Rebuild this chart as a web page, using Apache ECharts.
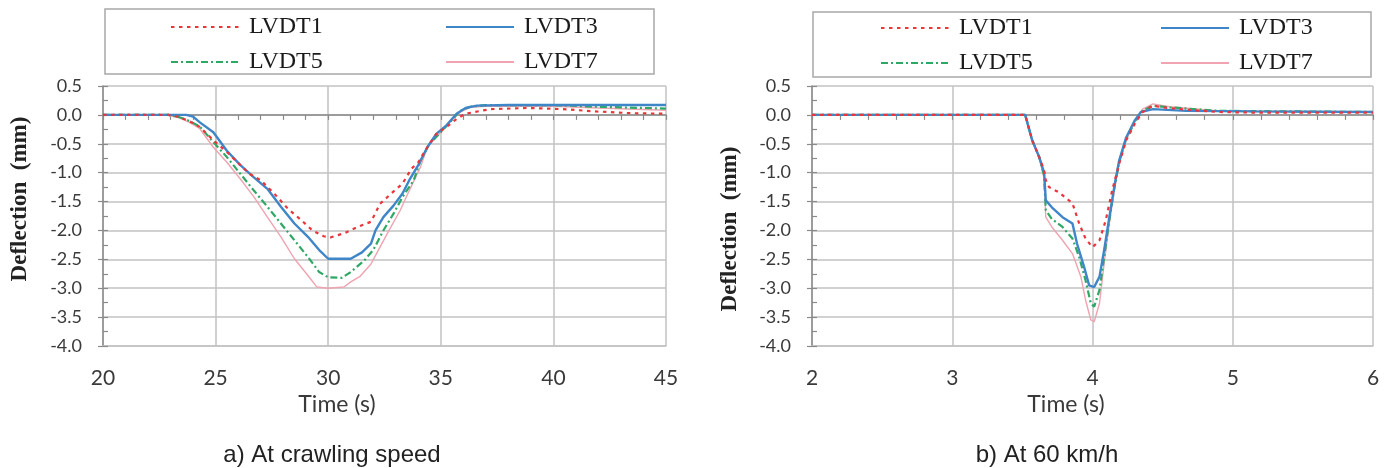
<!DOCTYPE html>
<html>
<head>
<meta charset="utf-8">
<script src="https://cdn.jsdelivr.net/npm/echarts@6/dist/echarts.min.js"></script>
<style>
  html, body { margin: 0; padding: 0; background: #ffffff; }
  #chart { width: 1393px; height: 468px; }
</style>
</head>
<body>
<div id="chart"></div>
<script>
// ---- Data (time s, deflection mm) ----
const seriesNames = ['LVDT1', 'LVDT3', 'LVDT5', 'LVDT7'];

// a) At crawling speed
const crawlLVDT1 = [[20,0],[22.9,0],[23.3,-0.03],[23.8,-0.1],[24.3,-0.21],[24.9,-0.44],[25.5,-0.64],[26.1,-0.87],[26.5,-1.02],[27.0,-1.13],[27.6,-1.36],[28.2,-1.62],[28.8,-1.82],[29.3,-2.0],[29.8,-2.1],[30.1,-2.12],[30.7,-2.05],[31.3,-1.94],[31.9,-1.85],[32.3,-1.54],[32.8,-1.36],[33.3,-1.19],[33.7,-0.93],[34.0,-0.82],[34.4,-0.56],[34.8,-0.33],[35.25,-0.21],[35.7,-0.07],[36.1,0.02],[37.2,0.10],[38.9,0.12],[40.4,0.10],[41.9,0.06],[43.4,0.03],[45,0.02]];
const crawlLVDT3 = [[20,0],[23.7,0],[24.0,-0.03],[24.3,-0.13],[24.9,-0.3],[25.5,-0.62],[26.1,-0.87],[26.7,-1.08],[27.3,-1.28],[27.9,-1.59],[28.5,-1.88],[29.1,-2.11],[29.6,-2.34],[30.0,-2.49],[31.0,-2.49],[31.5,-2.38],[31.9,-2.23],[32.1,-2.0],[32.45,-1.77],[32.9,-1.57],[33.3,-1.36],[33.6,-1.13],[34.0,-0.87],[34.4,-0.56],[34.8,-0.33],[35.25,-0.18],[35.7,0.02],[36.1,0.12],[36.6,0.16],[38,0.17],[45,0.17]];
const crawlLVDT5 = [[20,0],[22.9,0],[23.4,-0.04],[23.8,-0.1],[24.3,-0.2],[24.9,-0.47],[25.5,-0.73],[26.1,-1.02],[26.7,-1.31],[27.3,-1.59],[27.9,-1.88],[28.5,-2.17],[29.1,-2.46],[29.6,-2.72],[30.0,-2.81],[30.6,-2.82],[31.0,-2.72],[31.6,-2.52],[32.0,-2.34],[32.45,-2.0],[32.9,-1.71],[33.3,-1.42],[33.8,-1.13],[34.1,-0.79],[34.5,-0.5],[35.0,-0.3],[35.4,-0.13],[35.85,0.07],[36.3,0.14],[37,0.17],[40,0.17],[42,0.14],[45,0.11]];
const crawlLVDT7 = [[20,0],[22.8,0],[23.3,-0.04],[23.8,-0.12],[24.3,-0.24],[24.9,-0.56],[25.5,-0.82],[26.1,-1.11],[26.7,-1.42],[27.3,-1.77],[27.9,-2.11],[28.5,-2.49],[29.1,-2.78],[29.5,-2.98],[30.0,-3.0],[30.7,-2.98],[31.0,-2.89],[31.4,-2.8],[31.9,-2.58],[32.3,-2.29],[32.7,-2.0],[33.2,-1.65],[33.6,-1.31],[34.1,-0.9],[34.4,-0.56],[35.0,-0.3],[35.4,-0.13],[35.85,0.05],[36.3,0.13],[37,0.15],[40,0.15],[42,0.12],[45,0.08]];

// b) At 60 km/h
const speedLVDT1 = [[2,0],[3.52,0],[3.57,-0.44],[3.62,-0.73],[3.655,-0.96],[3.667,-1.13],[3.69,-1.25],[3.76,-1.34],[3.857,-1.53],[3.905,-1.88],[3.95,-2.14],[4.0,-2.29],[4.05,-2.17],[4.095,-1.82],[4.14,-1.31],[4.19,-0.85],[4.24,-0.44],[4.3,-0.16],[4.357,0.05],[4.43,0.16],[4.5,0.13],[4.67,0.09],[4.9,0.05],[5.14,0.04],[6,0.04]];
const speedLVDT3 = [[2,0],[3.52,0],[3.57,-0.44],[3.62,-0.73],[3.655,-1.0],[3.667,-1.48],[3.71,-1.6],[3.786,-1.77],[3.857,-1.88],[3.89,-2.23],[3.94,-2.63],[3.976,-2.95],[4.012,-2.98],[4.05,-2.8],[4.083,-2.34],[4.12,-1.77],[4.155,-1.25],[4.19,-0.79],[4.24,-0.39],[4.3,-0.1],[4.345,0.05],[4.43,0.1],[4.67,0.07],[5.14,0.06],[6,0.05]];
const speedLVDT5 = [[2,0],[3.52,0],[3.57,-0.44],[3.62,-0.73],[3.655,-1.05],[3.667,-1.65],[3.71,-1.8],[3.786,-1.94],[3.857,-2.14],[3.905,-2.46],[3.95,-2.86],[3.988,-3.26],[4.012,-3.32],[4.05,-3.03],[4.083,-2.46],[4.12,-1.82],[4.155,-1.28],[4.19,-0.82],[4.24,-0.41],[4.3,-0.13],[4.357,0.07],[4.43,0.16],[4.55,0.13],[4.9,0.07],[6,0.05]];
const speedLVDT7 = [[2,0],[3.52,0],[3.57,-0.44],[3.62,-0.75],[3.655,-1.1],[3.667,-1.77],[3.71,-1.94],[3.786,-2.17],[3.857,-2.4],[3.917,-2.8],[3.95,-3.2],[3.988,-3.55],[4.012,-3.58],[4.05,-3.26],[4.083,-2.57],[4.12,-1.88],[4.155,-1.31],[4.19,-0.82],[4.24,-0.44],[4.3,-0.13],[4.357,0.1],[4.43,0.19],[4.55,0.14],[4.9,0.07],[6,0.05]];

// Axis settings
const crawlX = { min: 20, max: 45, major: 5, minor: 1 };
const speedX = { min: 2, max: 6, major: 1, minor: 0.2 };
const yRange = { min: -4, max: 0.5, major: 0.5, minor: 0.25 };

// Texts
const xAxisTitle = 'Time (s)';
const yAxisTitle = 'Deflection  (mm)';
const captions = ['a) At crawling speed', 'b) At 60 km/h'];

// ---- Styles ----
const styles = {
  LVDT1: { color: '#e8363c', width: 2.2, type: [3.5, 4.5] },
  LVDT3: { color: '#3f86c8', width: 2.4, type: 'solid' },
  LVDT5: { color: '#2fa865', width: 2.2, type: [7, 3, 2, 3] },
  LVDT7: { color: '#f0a3b0', width: 1.4, type: 'solid' }
};
const gridColor = '#c2c2c2';
const axisColor = '#8a8a8a';
const labelFont = 'Lato, "Liberation Sans", sans-serif';

const chart = echarts.init(document.getElementById('chart'), null, { renderer: 'canvas' });

function xAxesFor(g, r) {
  return [
    {
      gridIndex: g, type: 'value', min: r.min, max: r.max, interval: r.major, position: 'bottom',
      axisLine: { onZero: false, lineStyle: { color: gridColor, width: 1.5 } },
      axisTick: { show: false },
      axisLabel: { margin: 22, fontFamily: labelFont, fontSize: 21, color: '#3a3a3a' },
      splitLine: { show: true, lineStyle: { color: gridColor, width: 1.5 } }
    },
    {
      gridIndex: g, type: 'value', min: r.min, max: r.max, interval: r.minor, position: 'top',
      axisLine: { show: true, onZero: true, lineStyle: { color: axisColor, width: 1.5 } },
      axisTick: { show: true, inside: true, length: 5, lineStyle: { color: axisColor, width: 1.2 } },
      axisLabel: { show: false },
      splitLine: { show: false }
    }
  ];
}
function yAxesFor(g) {
  return [
    {
      gridIndex: g, type: 'value', min: yRange.min, max: yRange.max, interval: yRange.major, position: 'left',
      axisLine: { show: true, onZero: false, lineStyle: { color: axisColor, width: 1.5 } },
      axisTick: { show: true, length: 5, lineStyle: { color: axisColor, width: 1.2 } },
      axisLabel: { margin: 21, fontFamily: labelFont, fontSize: 18, color: '#3a3a3a',
        formatter: v => v.toFixed(1) },
      splitLine: { show: true, lineStyle: { color: gridColor, width: 1.5 } }
    },
    {
      gridIndex: g, type: 'value', min: yRange.min, max: yRange.max, interval: yRange.minor, position: 'left',
      axisLine: { show: false, onZero: false },
      axisTick: { show: true, inside: true, length: 5, lineStyle: { color: axisColor, width: 1.2 } },
      axisLabel: { show: false },
      splitLine: { show: false }
    }
  ];
}

function mkSeries(name, data, xi, yi) {
  const s = styles[name];
  return {
    name, type: 'line', data, xAxisIndex: xi, yAxisIndex: yi,
    symbol: 'none', showSymbol: false, smooth: false, animation: false,
    lineStyle: { color: s.color, width: s.width, type: s.type },
    itemStyle: { color: s.color }
  };
}

function mkLegend(name, left, top) {
  return {
    data: [name], left, top, padding: 0, itemWidth: 68, itemHeight: 24,
    selectedMode: false,
    itemStyle: { opacity: 0, borderWidth: 0 },
    textStyle: { fontFamily: '"Liberation Serif", "Times New Roman", serif', fontSize: 24,
      color: '#1a1a1a', lineHeight: 24, padding: [0, 0, 0, 5] }
  };
}

const serifBold = 'bold 23px "Liberation Serif", "Times New Roman", serif';

const option = {
  backgroundColor: '#ffffff',
  animation: false,
  grid: [
    { left: 103, top: 86, width: 563, height: 260 },
    { left: 812, top: 86, width: 561, height: 260 }
  ],
  xAxis: [...xAxesFor(0, crawlX), ...xAxesFor(1, speedX)],
  yAxis: [...yAxesFor(0), ...yAxesFor(1)],
  legend: [
    mkLegend('LVDT1', 170, 15), mkLegend('LVDT3', 445, 15),
    mkLegend('LVDT5', 170, 50), mkLegend('LVDT7', 445, 50),
    mkLegend('LVDT1', 880, 16), mkLegend('LVDT3', 1160, 16),
    mkLegend('LVDT5', 880, 51), mkLegend('LVDT7', 1160, 51)
  ],
  series: [
    mkSeries('LVDT7', crawlLVDT7, 0, 0),
    mkSeries('LVDT5', crawlLVDT5, 0, 0),
    mkSeries('LVDT3', crawlLVDT3, 0, 0),
    mkSeries('LVDT1', crawlLVDT1, 0, 0),
    mkSeries('LVDT7', speedLVDT7, 2, 2),
    mkSeries('LVDT5', speedLVDT5, 2, 2),
    mkSeries('LVDT3', speedLVDT3, 2, 2),
    mkSeries('LVDT1', speedLVDT1, 2, 2)
  ],
  graphic: [
    { type: 'rect', shape: { x: 105, y: 9, width: 549, height: 65 },
      style: { fill: 'none', stroke: '#a8a8a8', lineWidth: 1.5 }, z: -1 },
    { type: 'rect', shape: { x: 813, y: 12, width: 558, height: 65 },
      style: { fill: 'none', stroke: '#a8a8a8', lineWidth: 1.5 }, z: -1 },
    { type: 'text', x: 337, y: 405, style: { text: xAxisTitle, font: '23px ' + labelFont,
      fill: '#3a3a3a', textAlign: 'center', textVerticalAlign: 'middle' } },
    { type: 'text', x: 1066, y: 405, style: { text: xAxisTitle, font: '23px ' + labelFont,
      fill: '#3a3a3a', textAlign: 'center', textVerticalAlign: 'middle' } },
    { type: 'text', x: 332, y: 455, style: { text: captions[0], font: '24px "Liberation Sans", Arial, sans-serif',
      fill: '#222222', textAlign: 'center', textVerticalAlign: 'middle' } },
    { type: 'text', x: 1047, y: 455, style: { text: captions[1], font: '24px "Liberation Sans", Arial, sans-serif',
      fill: '#222222', textAlign: 'center', textVerticalAlign: 'middle' } },
    { type: 'text', x: 20, y: 199, rotation: Math.PI / 2, style: { text: yAxisTitle, font: serifBold,
      fill: '#222222', textAlign: 'center', textVerticalAlign: 'middle' } },
    { type: 'text', x: 730, y: 229, rotation: Math.PI / 2, style: { text: yAxisTitle, font: serifBold,
      fill: '#222222', textAlign: 'center', textVerticalAlign: 'middle' } }
  ]
};
chart.setOption(option);
</script>
</body>
</html>
